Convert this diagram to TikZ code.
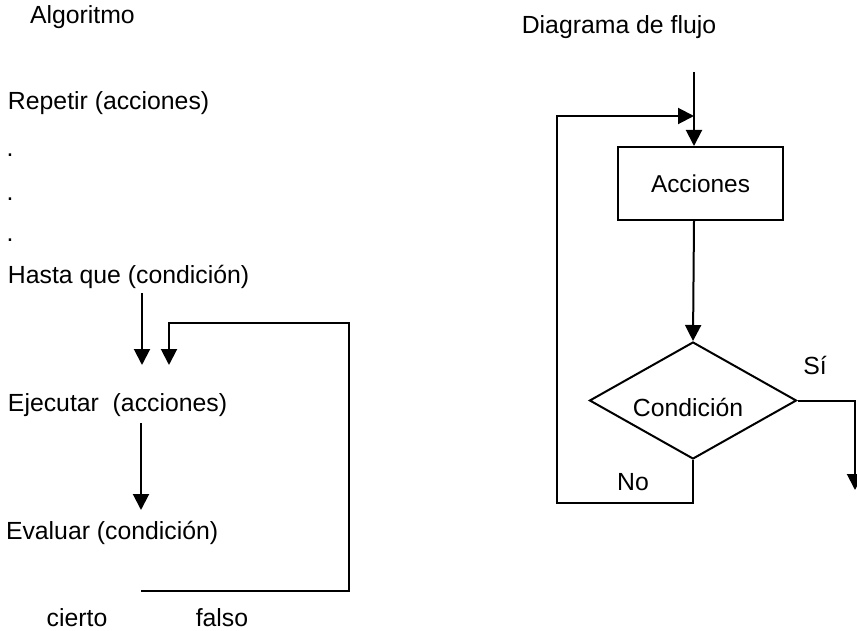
\documentclass[tikz,border=0pt]{standalone}
\usepackage{fontspec}
\setmainfont{Liberation Sans}
\usetikzlibrary{arrows.meta,shapes.geometric}

\begin{document}
\begin{tikzpicture}[x=0.5pt,y=-0.5pt,line width=1pt,
    flecha/.style={-{Triangle[length=8pt,width=8pt]}},
    texto/.style={inner sep=0pt,anchor=west,font=\fontsize{12.4}{14}\selectfont},
    caja/.style={draw,rectangle,minimum width=82.5pt,minimum height=36.5pt,inner sep=0pt,font=\fontsize{12.2}{14}\selectfont},
    rombo/.style={draw,diamond,minimum width=103.5pt,minimum height=58.5pt,inner sep=0pt,font=\fontsize{12.2}{14}\selectfont}]
      \useasboundingbox (0,0) rectangle (857,631);
      % algoritmo
      \node[texto] (algoritmo) at (29,17) {Algoritmo};
      \node[texto] (repetir) at (7,103) {Repetir (acciones)};
      \node[texto,anchor=base] (p1) at (10,156) {.};
      \node[texto,anchor=base] (p2) at (10,200) {.};
      \node[texto,anchor=base] (p3) at (10,242) {.};
      \node[texto] (hasta) at (7,277) {Hasta que (condición)};
      \node[texto] (ejecutar) at (7,405) {Ejecutar\ \ (acciones)};
      \node[texto] (evaluar) at (5,533) {Evaluar (condición)};
      \node[texto,anchor=center] (cierto) at (77,618) {cierto};
      \node[texto,anchor=center] (falso) at (222,618) {falso};
      \coordinate (h1) at (142,293);
      \coordinate (h2) at (142,365);
      \coordinate (e1) at (141,423);
      \coordinate (e2) at (141,510);
      \coordinate (f1) at (141,591);
      \coordinate (f2) at (169,365);
      \draw[flecha] (h1) -- (h2);
      \draw[flecha] (e1) -- (e2);
      \draw[flecha] (f1) -- (349,591) |- (169,323) -- (f2);
      % diagrama de flujo
      \node[texto,anchor=center] (titulo) at (619,27) {Diagrama de flujo};
      \node[caja] (acciones) at (700.5,183.5) {Acciones};
      \node[rombo] (condicion) at (693,400.5) {};
      \node[texto,anchor=center] at (688,407) {Condición};
      \coordinate (entrada) at (694,72);
      \coordinate (salida) at (855,490);
      \draw[flecha] (entrada) -- (entrada |- acciones.north);
      \draw[flecha] (acciones.south -| entrada) -- (condicion.north);
      \draw[flecha] (condicion.east) -| (salida);
      \draw[flecha] (condicion.south) -- (condicion.south |- 0,503) -| (557,116) -- (entrada |- 0,116);
      \node[texto,anchor=center] (si) at (815,365) {Sí};
      \node[texto,anchor=center] (no) at (633,482) {No};
\end{tikzpicture}
\end{document}
